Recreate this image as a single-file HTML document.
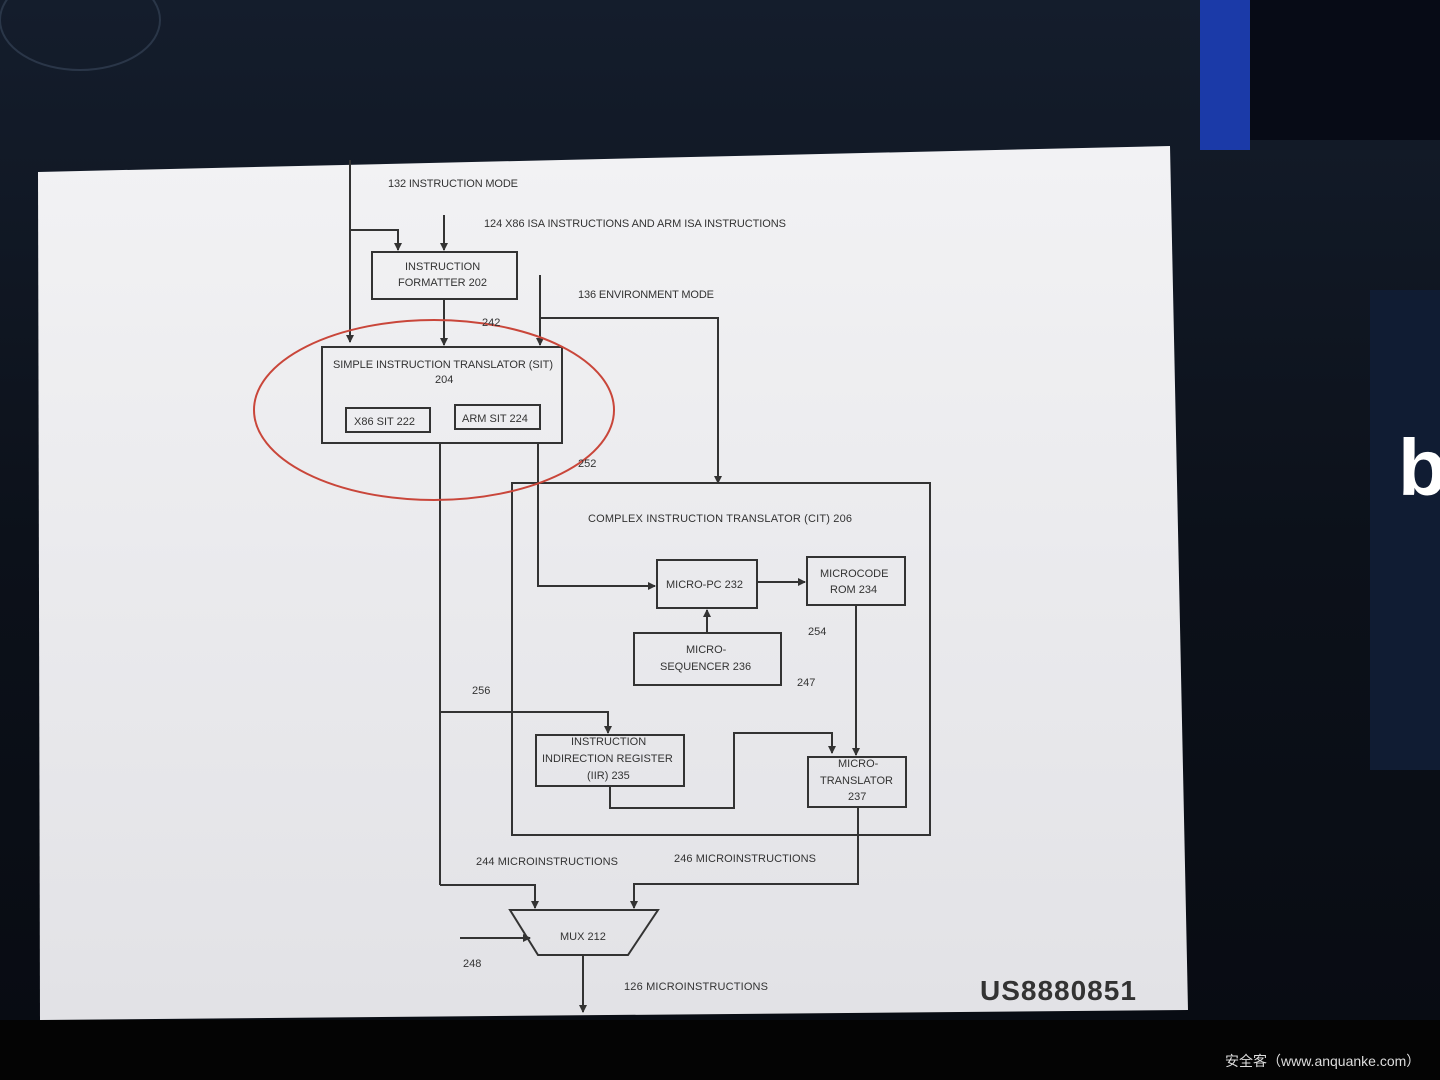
<!DOCTYPE html>
<html><head><meta charset="utf-8"><style>
html,body{margin:0;padding:0;width:1440px;height:1080px;overflow:hidden;background:#07090f;}
svg{display:block}
</style></head><body>
<svg width="1440" height="1080" viewBox="0 0 1440 1080" xmlns="http://www.w3.org/2000/svg" font-family="Liberation Sans, sans-serif">
<defs>
<linearGradient id="top" x1="0" y1="0" x2="0" y2="1"><stop offset="0" stop-color="#141d2c"/><stop offset="0.5" stop-color="#0c111a"/><stop offset="1" stop-color="#080b12"/></linearGradient>
<linearGradient id="sl" x1="0" y1="0" x2="0" y2="1"><stop offset="0" stop-color="#f2f2f4"/><stop offset="1" stop-color="#e2e2e6"/></linearGradient>
<marker id="a" markerWidth="8" markerHeight="8" refX="7" refY="4" orient="auto" markerUnits="userSpaceOnUse"><path d="M0,0 L8,4 L0,8 z" fill="#333"/></marker>
</defs>
<rect width="1440" height="1080" fill="url(#top)"/>
<rect x="1200" y="0" width="50" height="150" fill="#1b3aa8"/>
<rect x="1250" y="0" width="190" height="140" fill="#070b16"/>
<rect x="1370" y="290" width="70" height="480" fill="#101c33"/>
<text x="1398" y="495" font-size="80" font-weight="bold" fill="#fff">b</text>
<ellipse cx="80" cy="20" rx="80" ry="50" fill="none" stroke="#2a3648" stroke-width="2"/>
<rect x="0" y="1020" width="1440" height="60" fill="#040404"/>
<text x="1225" y="1066" font-size="14" fill="#ddd" font-family="Liberation Sans, Noto Sans CJK SC, sans-serif">安全客（www.anquanke.com）</text>
<polygon points="38,172 1170,146 1188,1010 40,1020" fill="url(#sl)"/>
<g stroke="#333" stroke-width="2" fill="none">
<line x1="350" y1="160" x2="350" y2="342" marker-end="url(#a)"/>
<polyline points="350,230 398,230 398,250" marker-end="url(#a)"/>
<line x1="444" y1="215" x2="444" y2="250" marker-end="url(#a)"/>
<rect x="372" y="252" width="145" height="47"/>
<line x1="444" y1="300" x2="444" y2="345" marker-end="url(#a)"/>
<line x1="540" y1="275" x2="540" y2="345" marker-end="url(#a)"/>
<polyline points="540,318 718,318 718,483" marker-end="url(#a)"/>
<rect x="322" y="347" width="240" height="96"/>
<rect x="346" y="408" width="84" height="24"/>
<rect x="455" y="405" width="85" height="24"/>
<rect x="512" y="483" width="418" height="352"/>
<polyline points="538,443 538,586 655,586" marker-end="url(#a)"/>
<rect x="657" y="560" width="100" height="48"/>
<line x1="757" y1="582" x2="805" y2="582" marker-end="url(#a)"/>
<rect x="807" y="557" width="98" height="48"/>
<rect x="634" y="633" width="147" height="52"/>
<line x1="707" y1="633" x2="707" y2="610" marker-end="url(#a)"/>
<line x1="856" y1="605" x2="856" y2="755" marker-end="url(#a)"/>
<line x1="440" y1="443" x2="440" y2="885"/>
<polyline points="440,712 608,712 608,733" marker-end="url(#a)"/>
<rect x="536" y="735" width="148" height="51"/>
<polyline points="610,786 610,808 734,808 734,733 832,733 832,753" marker-end="url(#a)"/>
<rect x="808" y="757" width="98" height="50"/>
<polyline points="440,885 535,885 535,908" marker-end="url(#a)"/>
<polyline points="858,807 858,884 634,884 634,908" marker-end="url(#a)"/>
<polygon points="510,910 658,910 628,955 538,955"/>
<line x1="460" y1="938" x2="530" y2="938" marker-end="url(#a)"/>
<line x1="583" y1="955" x2="583" y2="1012" marker-end="url(#a)"/>
</g>
<ellipse cx="434" cy="410" rx="180" ry="90" fill="none" stroke="#c9463a" stroke-width="2"/>
<g font-size="11" fill="#333" transform="scale(1,1)">
<text x="388" y="187" textLength="130">132 INSTRUCTION MODE</text>
<text x="484" y="227" textLength="302">124 X86 ISA INSTRUCTIONS AND ARM ISA INSTRUCTIONS</text>
<text x="405" y="270">INSTRUCTION</text>
<text x="398" y="286">FORMATTER 202</text>
<text x="578" y="298" textLength="136">136 ENVIRONMENT MODE</text>
<text x="482" y="326">242</text>
<text x="333" y="368" textLength="220">SIMPLE INSTRUCTION TRANSLATOR (SIT)</text>
<text x="435" y="383">204</text>
<text x="354" y="425">X86 SIT 222</text>
<text x="462" y="422">ARM SIT 224</text>
<text x="578" y="467">252</text>
<text x="588" y="522" textLength="264">COMPLEX INSTRUCTION TRANSLATOR (CIT) 206</text>
<text x="666" y="588">MICRO-PC 232</text>
<text x="820" y="577">MICROCODE</text>
<text x="830" y="593">ROM 234</text>
<text x="686" y="653">MICRO-</text>
<text x="660" y="670">SEQUENCER 236</text>
<text x="808" y="635">254</text>
<text x="797" y="686">247</text>
<text x="472" y="694">256</text>
<text x="571" y="745">INSTRUCTION</text>
<text x="542" y="762">INDIRECTION REGISTER</text>
<text x="587" y="779">(IIR) 235</text>
<text x="838" y="767">MICRO-</text>
<text x="820" y="784">TRANSLATOR</text>
<text x="848" y="800">237</text>
<text x="476" y="865" textLength="142">244 MICROINSTRUCTIONS</text>
<text x="674" y="862" textLength="142">246 MICROINSTRUCTIONS</text>
<text x="560" y="940">MUX 212</text>
<text x="463" y="967">248</text>
<text x="624" y="990" textLength="144">126 MICROINSTRUCTIONS</text>
</g>
<text x="980" y="1000" font-size="28" font-weight="bold" fill="#333" letter-spacing="1">US8880851</text>
</svg>
</body></html>
